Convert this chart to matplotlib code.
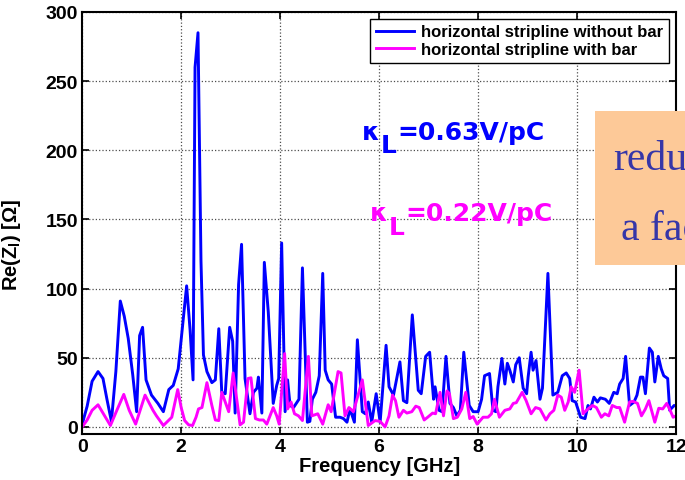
import numpy as np
import matplotlib
matplotlib.use('Agg')
import matplotlib.pyplot as plt
from matplotlib.patches import Rectangle

plt.rcParams['font.family'] = ['Liberation Sans', 'DejaVu Sans']
plt.rcParams['mathtext.fontset'] = 'custom'
plt.rcParams['mathtext.rm'] = 'Liberation Sans'
plt.rcParams['mathtext.bf'] = 'Liberation Sans:bold'

# Re(Z) of the horizontal stripline
freq_nobar = [0.00, 0.10, 0.20, 0.32, 0.42, 0.50, 0.59, 0.68, 0.77, 0.85, 0.93, 1.02, 1.10, 1.16,
              1.22, 1.29, 1.40, 1.53, 1.64, 1.75, 1.84, 1.94, 2.02, 2.11, 2.18, 2.24, 2.28, 2.34,
              2.40, 2.45, 2.52, 2.62, 2.69, 2.76, 2.82, 2.89, 2.98, 3.04, 3.09, 3.16, 3.22, 3.29,
              3.39, 3.46, 3.53, 3.56, 3.63, 3.68, 3.76, 3.86, 3.93, 3.97, 4.03, 4.10, 4.15, 4.20,
              4.27, 4.38, 4.45, 4.55, 4.60, 4.65, 4.72, 4.79, 4.86, 4.91, 4.97, 5.04, 5.12, 5.21,
              5.28, 5.35, 5.41, 5.50, 5.56, 5.66, 5.72, 5.78, 5.85, 5.94, 6.02, 6.14, 6.20, 6.29,
              6.42, 6.49, 6.56, 6.67, 6.79, 6.85, 6.94, 7.02, 7.10, 7.13, 7.21, 7.27, 7.35, 7.43,
              7.50, 7.57, 7.64, 7.71, 7.82, 7.90, 8.00, 8.07, 8.13, 8.23, 8.30, 8.36, 8.40, 8.48,
              8.54, 8.59, 8.64, 8.71, 8.76, 8.83, 8.91, 8.98, 9.01, 9.07, 9.11, 9.17, 9.25, 9.30,
              9.41, 9.51, 9.61, 9.70, 9.78, 9.85, 9.90, 9.97, 10.07, 10.16, 10.22, 10.27, 10.34,
              10.41, 10.47, 10.57, 10.65, 10.74, 10.81, 10.86, 10.93, 10.98, 11.06, 11.15, 11.21,
              11.28, 11.33, 11.38, 11.46, 11.52, 11.57, 11.64, 11.70, 11.75, 11.83, 11.87, 11.96, 12.00]
z_nobar = [2, 15, 33, 40, 35, 20, 4, 40, 91, 80, 64, 38, 11, 66,
           72, 34, 23, 17, 11, 27, 30, 42, 70, 102, 70, 34, 260, 285,
           120, 52, 40, 32, 34, 71, 25, 24, 72, 62, 10, 103, 132, 35,
           9.5, 25, 28, 36, 10, 119, 83, 17, 30, 35, 133, 11, 34, 15.5,
           14, 20, 115, 3.4, 4, 20, 25, 37, 111, 41, 34, 31, 7, 7,
           6, 3.4, 13, 3.4, 63, 11, 9.5, 18, 3.4, 24, 3.4, 59, 29, 23,
           47, 19, 17.5, 81, 26.5, 24, 51, 54, 20, 29, 12, 11, 51, 17,
           14, 8, 12, 54, 15.5, 11, 11, 20, 37, 38.6, 12, 11, 29, 49.5,
           31, 46, 41, 32.5, 45, 50, 28, 24, 36, 54, 41, 48, 20, 28,
           111, 23, 25, 37, 39, 35, 19, 18, 7, 6, 15.5, 13, 21.5,
           18, 21, 20, 17, 25, 24, 31, 35, 51, 15.5, 18, 23,
           36, 36, 24, 57, 54, 32.5, 51, 42, 37, 35, 12, 15.5, 15]

freq_bar = [0.00, 0.10, 0.20, 0.32, 0.42, 0.57, 0.70, 0.84, 0.95, 1.08, 1.17, 1.27, 1.43, 1.50,
            1.64, 1.81, 1.93, 2.00, 2.07, 2.15, 2.23, 2.30, 2.35, 2.42, 2.52, 2.62, 2.69, 2.76,
            2.82, 2.89, 2.96, 3.05, 3.13, 3.19, 3.26, 3.35, 3.41, 3.50, 3.58, 3.66, 3.73, 3.86,
            3.93, 3.98, 4.09, 4.15, 4.22, 4.29, 4.37, 4.45, 4.57, 4.64, 4.76, 4.86, 4.97, 5.03,
            5.17, 5.23, 5.31, 5.39, 5.48, 5.66, 5.78, 5.92, 6.02, 6.12, 6.20, 6.27, 6.33, 6.40,
            6.49, 6.56, 6.66, 6.74, 6.81, 6.91, 6.98, 7.08, 7.14, 7.23, 7.30, 7.37, 7.42, 7.50,
            7.58, 7.67, 7.75, 7.83, 7.90, 7.98, 8.10, 8.20, 8.27, 8.33, 8.43, 8.54, 8.64, 8.71,
            8.77, 8.89, 8.97, 9.07, 9.16, 9.25, 9.37, 9.45, 9.53, 9.61, 9.68, 9.75, 9.82, 9.88,
            9.95, 10.04, 10.12, 10.22, 10.31, 10.39, 10.49, 10.56, 10.64, 10.71, 10.80, 10.86,
            10.96, 11.06, 11.13, 11.22, 11.30, 11.38, 11.45, 11.57, 11.65, 11.73, 11.81, 11.88,
            11.94, 12.00]
z_bar = [0, 5, 12, 16, 10, 1, 12, 23.5, 12, 2, 12, 23, 12, 8,
         1, 7, 27, 14, 4.6, 1.5, 1, 7, 13, 14, 32, 15.5, 5, 4.6,
         25, 18, 11, 39, 18, 1.5, 3.4, 35, 35.5, 6, 5, 5, 2, 14,
         8, 2, 53, 13, 18, 9.5, 8, 4.6, 51, 8, 9.5, 2, 16, 11,
         40, 39, 8, 14, 11, 34, 1, 4.6, 4, 0, 8, 23, 19, 7,
         12, 10, 11, 15, 14, 5, 7, 10, 9.5, 25, 8, 26, 24, 6,
         7, 13, 25, 6, 7.5, 2, 7, 7, 9.5, 20, 7, 12, 13, 17,
         17.5, 25, 19, 9.5, 14, 13, 5, 9.5, 12, 23, 21.5, 12, 18, 29,
         25, 41, 9.5, 13, 15.5, 14, 7, 9.5, 8, 15.5, 14, 14,
         3.4, 18, 18.5, 17, 8, 13, 19, 3.4, 13.5, 13, 17, 12,
         7, 8]

series_names = ['horizontal stripline without bar', 'horizontal stripline with bar']
kappa_texts = ['=0.63V/pC', '=0.22V/pC']
x_ticks = [0, 2, 4, 6, 8, 10, 12]
y_ticks = [0, 50, 100, 150, 200, 250, 300]

fig = plt.figure(figsize=(6.85, 4.81), dpi=100)
ax = fig.add_axes([0.12, 0.096, 0.867, 0.877])

ax.plot(freq_nobar, z_nobar, color='#0000ff', lw=2.1, label=series_names[0])
ax.plot(freq_bar, z_bar, color='#ff00ff', lw=2.1, label=series_names[1])

ax.set_xlim(0, 12)
ax.set_ylim(-5, 300)
ax.set_xticks(x_ticks)
ax.set_yticks(y_ticks)
ax.tick_params(direction='in', top=True, right=True, labelsize=14, width=1.2, length=5, pad=3)
for lab in ax.get_xticklabels() + ax.get_yticklabels():
    lab.set_fontweight('bold')
ax.grid(True, linestyle=':', color='0.3', lw=0.9)
for s in ax.spines.values():
    s.set_linewidth(1.5)

ax.set_xlabel('Frequency [GHz]', fontsize=14.5, fontweight='bold', labelpad=1)
ax.set_ylabel(r'Re(Z$_\mathbf{l}$) [Ω]', fontsize=14.5, fontweight='bold')
ax.yaxis.set_label_coords(-0.1, 0.45)

leg = ax.legend(loc='upper right', prop={'weight': 'bold', 'size': 12},
                fancybox=False, edgecolor='black', framealpha=1, borderaxespad=0.4,
                handlelength=2.3, handletextpad=0.45, borderpad=0.35, labelspacing=0.15)
leg.get_frame().set_linewidth(1.0)


def kappa_label(x, y, value, color):
    # kappa, a large subscript L, then the value on kappa's baseline
    kw = dict(color=color, fontsize=18, fontweight='bold', family='DejaVu Sans')
    k = ax.text(x, y, 'κ', va='baseline', **kw)
    sub = ax.annotate('L', xy=(1, 0), xycoords=k, xytext=(0.5, -10), textcoords='offset points',
                      va='bottom', ha='left', **kw)
    ax.annotate(value, xy=(1, 0), xycoords=(sub, k), xytext=(0.5, 0), textcoords='offset points',
                va='bottom', ha='left', **kw)


kappa_label(5.66, 208.5, kappa_texts[0], '#0000ff')
kappa_label(5.82, 149.5, kappa_texts[1], '#ff00ff')

# slide overlay on the right side, cut by the figure edge
fig.add_artist(Rectangle((595 / 685, 1 - 266 / 481), 0.2, 154 / 481, transform=fig.transFigure,
                         facecolor='#fdc998', edgecolor='none', zorder=5))
fig.text(613 / 685, 1 - 170 / 481, 'reduced', family='Liberation Serif', fontsize=30,
         color='#3636a8', zorder=6)
fig.text(621 / 685, 1 - 240 / 481, 'a factor', family='Liberation Serif', fontsize=30,
         color='#3636a8', zorder=6)

fig.savefig('out.png', dpi=100)
